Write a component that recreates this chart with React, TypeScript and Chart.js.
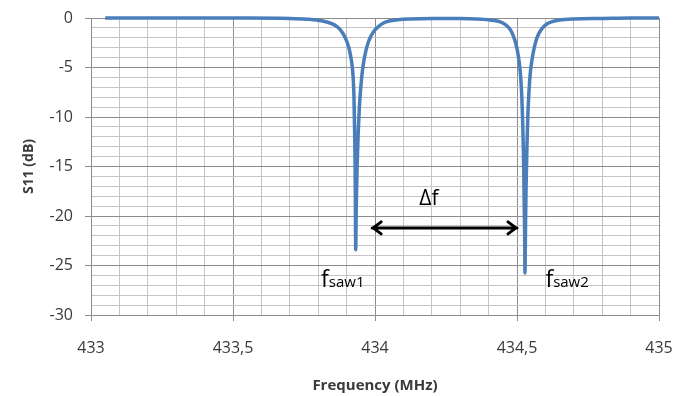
import { useEffect, useRef } from "react";
import { Chart, registerables } from "chart.js";

Chart.register(...registerables);

const freqMHz = [
  433.05, 433.3, 433.55, 433.7, 433.76, 433.8, 433.83, 433.85, 433.865, 433.878,
  433.89, 433.9, 433.908, 433.914, 433.919, 433.923, 433.926, 433.928, 433.93, 433.931,
  433.932, 433.934, 433.937, 433.941, 433.945, 433.95, 433.955, 433.961, 433.968, 433.977,
  433.988, 434.0, 434.015, 434.03, 434.05, 434.08, 434.12, 434.2, 434.3, 434.36,
  434.4, 434.43, 434.45, 434.465, 434.477, 434.487, 434.495, 434.502, 434.508, 434.513,
  434.517, 434.52, 434.523, 434.525, 434.527, 434.528, 434.53, 434.532, 434.535, 434.538,
  434.542, 434.547, 434.553, 434.56, 434.568, 434.578, 434.59, 434.605, 434.625, 434.65,
  434.7, 434.8, 434.9, 435.0,
];
const s11dB = [
  0, 0, 0, -0.05, -0.12, -0.22, -0.4, -0.6, -0.85, -1.2,
  -1.7, -2.3, -3.0, -3.8, -4.7, -6.0, -8, -11, -15, -19,
  -23.4, -19, -15, -11.5, -9, -7, -5.5, -4.3, -3.3, -2.4,
  -1.7, -1.2, -0.8, -0.5, -0.3, -0.18, -0.1, -0.05, -0.05, -0.1,
  -0.18, -0.3, -0.5, -0.8, -1.2, -1.8, -2.5, -3.4, -4.5, -6,
  -8, -10.5, -14, -18, -22, -25.75, -21, -17, -13, -10,
  -7.5, -5.5, -4.2, -3.1, -2.2, -1.5, -1.0, -0.6, -0.35, -0.2,
  -0.1, -0.05, 0, 0,
];

// Axis ranges and steps
const xRange = [433, 435];
const xMajorStep = 0.5;
const xMinorStep = 0.1;
const yRange = [-30, 0];
const yMajorStep = 5;
const yMinorStep = 1;

// Annotations (data coordinates)
const sawSubscripts = ["saw1", "saw2"];
const sawLabelFreq = [433.81, 434.6];
const sawLabelDb = [-27.2, -27.2];
const deltaText = "Δf";
const deltaArrowFreq = [433.99, 434.5];
const deltaArrowDb = -21.2;
const deltaLabelFreq = 434.19;
const deltaLabelDb = -18.3;

const FONT = "'Open Sans', 'Liberation Sans', sans-serif";
const isMultiple = (v: number, step: number) => {
  const r = v / step;
  return Math.abs(r - Math.round(r)) < 1e-6;
};

const annotationPlugin = {
  id: "annotations",
  afterDatasetsDraw(chart: any) {
    const { ctx, scales } = chart;
    const xs = scales.x;
    const ys = scales.y;
    ctx.save();
    // double arrow
    const ay = ys.getPixelForValue(deltaArrowDb);
    const ax1 = xs.getPixelForValue(deltaArrowFreq[0]);
    const ax2 = xs.getPixelForValue(deltaArrowFreq[1]);
    ctx.strokeStyle = "#000";
    ctx.lineWidth = 3;
    ctx.lineCap = "round";
    ctx.lineJoin = "round";
    ctx.beginPath();
    ctx.moveTo(ax1, ay);
    ctx.lineTo(ax2, ay);
    const h = 9;
    ctx.moveTo(ax1 + h, ay - 6);
    ctx.lineTo(ax1 + 1, ay);
    ctx.lineTo(ax1 + h, ay + 6);
    ctx.moveTo(ax2 - h, ay - 6);
    ctx.lineTo(ax2 - 1, ay);
    ctx.lineTo(ax2 - h, ay + 6);
    ctx.stroke();
    // delta f label
    ctx.fillStyle = "#000";
    ctx.textAlign = "center";
    ctx.textBaseline = "middle";
    ctx.font = `21px ${FONT}`;
    ctx.fillText(deltaText, xs.getPixelForValue(deltaLabelFreq), ys.getPixelForValue(deltaLabelDb));
    // fsaw labels
    ctx.textAlign = "left";
    ctx.textBaseline = "alphabetic";
    sawSubscripts.forEach((sub, i) => {
      const x = xs.getPixelForValue(sawLabelFreq[i]);
      const y = ys.getPixelForValue(sawLabelDb[i]);
      ctx.font = `23px ${FONT}`;
      ctx.fillText("f", x, y);
      const w = ctx.measureText("f").width;
      ctx.font = `15px ${FONT}`;
      ctx.fillText(sub, x + w, y);
    });
    ctx.restore();
  },
};

export default function App() {
  const canvasRef = useRef<HTMLCanvasElement | null>(null);

  useEffect(() => {
    if (!canvasRef.current) return;
    const points = freqMHz.map((f, i) => ({ x: f, y: s11dB[i] }));
    const chart = new Chart(canvasRef.current, {
      type: "line",
      data: {
        datasets: [
          {
            data: points,
            borderColor: "#4a7ebb",
            borderWidth: 3.5,
            pointRadius: 0,
            cubicInterpolationMode: "monotone",
            clip: false as any,
            fill: false,
          },
        ],
      },
      options: {
        responsive: false,
        animation: false,
        layout: { padding: { top: 18, right: 28, left: 0, bottom: 0 } },
        plugins: {
          legend: { display: false },
          tooltip: { enabled: false },
        },
        scales: {
          x: {
            type: "linear",
            min: xRange[0],
            max: xRange[1],
            afterFit: (s: any) => {
              s.height = 81;
              s.paddingLeft = 0;
              s.paddingRight = 0;
            },
            ticks: {
              stepSize: xMinorStep,
              autoSkip: false,
              maxRotation: 0,
              padding: 18,
              color: "#3a3a3a",
              font: { family: FONT, size: 16 },
              callback: (v: any) => {
                const n = Number(v);
                if (!isMultiple(n, xMajorStep)) return "";
                return String(Math.round(n * 10) / 10).replace(".", ",");
              },
            },
            grid: {
              color: (c: any) => (isMultiple(c.tick.value, xMajorStep) ? "#8c8c8c" : "#c4c4c4"),
              tickColor: (c: any) => (isMultiple(c.tick.value, xMajorStep) ? "#8c8c8c" : "rgba(0,0,0,0)"),
              tickLength: 6,
              lineWidth: 1,
            },
            border: { color: "#8c8c8c" },
            title: {
              display: true,
              text: "Frequency (MHz)",
              color: "#3a3a3a",
              font: { family: FONT, size: 15, weight: "bold" },
              padding: { top: 0, bottom: 1 },
            },
          },
          y: {
            min: yRange[0],
            max: yRange[1],
            afterFit: (s: any) => {
              s.width = 91;
              s.paddingTop = 0;
              s.paddingBottom = 0;
            },
            ticks: {
              stepSize: yMinorStep,
              autoSkip: false,
              padding: 12,
              color: "#3a3a3a",
              font: { family: FONT, size: 16 },
              callback: (v: any) => {
                const n = Number(v);
                if (!isMultiple(n, yMajorStep)) return "";
                return String(Math.round(n));
              },
            },
            grid: {
              color: (c: any) => (isMultiple(c.tick.value, yMajorStep) ? "#8c8c8c" : "#c4c4c4"),
              tickColor: (c: any) => (isMultiple(c.tick.value, yMajorStep) ? "#8c8c8c" : "rgba(0,0,0,0)"),
              tickLength: 6,
              lineWidth: 1,
            },
            border: { color: "#8c8c8c" },
            title: {
              display: true,
              text: "S11 (dB)",
              color: "#3a3a3a",
              font: { family: FONT, size: 14, weight: "bold" },
              padding: { top: 21, bottom: 0 },
            },
          },
        },
      },
      plugins: [annotationPlugin],
    });
    return () => chart.destroy();
  }, []);

  return (
    <div style={{ position: "absolute", left: 0, top: 0, width: 687, height: 396, background: "#fff" }}>
      <canvas ref={canvasRef} width={687} height={396} style={{ display: "block" }} />
    </div>
  );
}
